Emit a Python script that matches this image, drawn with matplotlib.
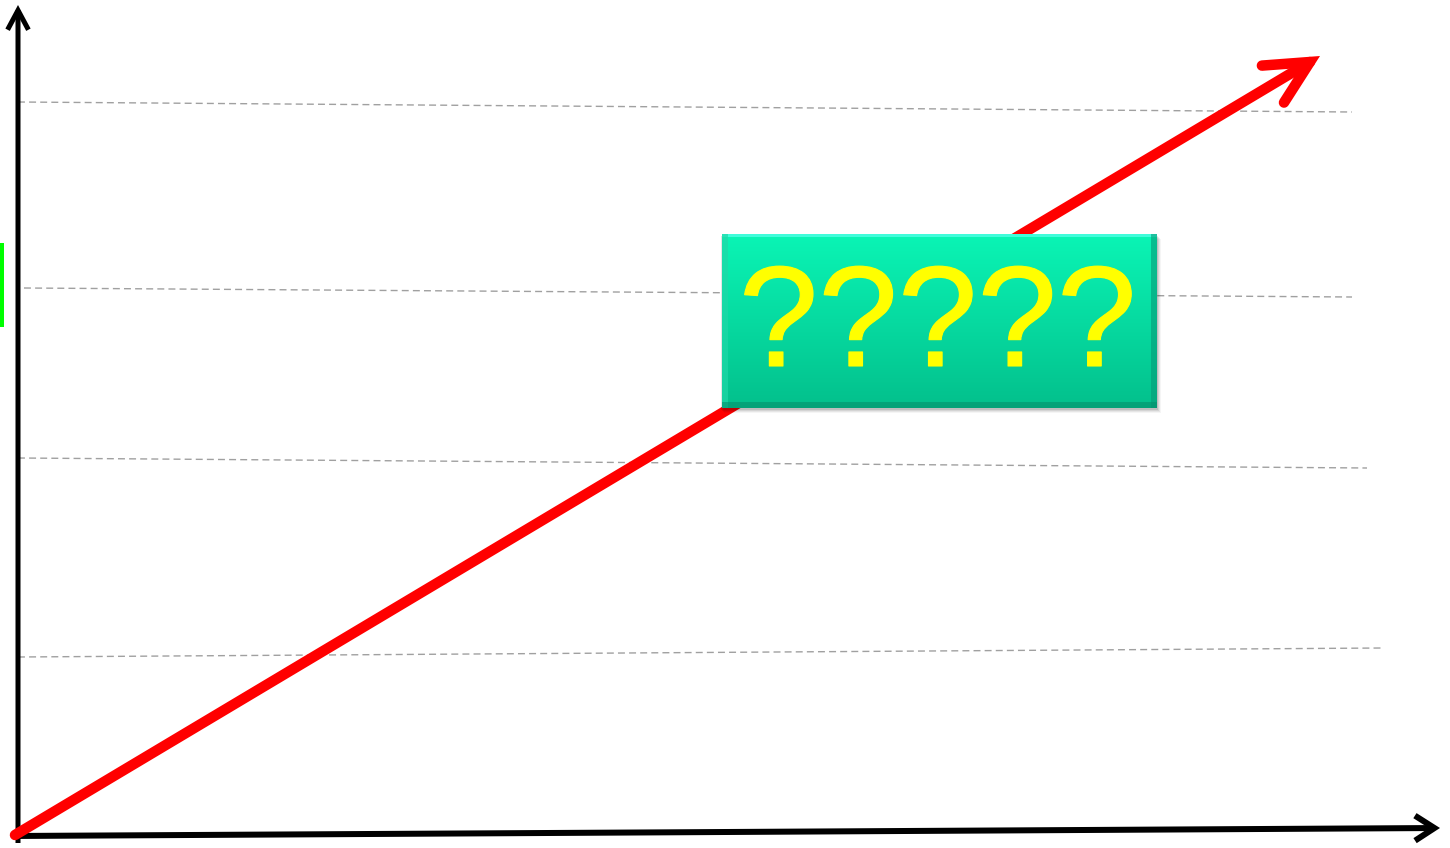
import matplotlib
matplotlib.use("Agg")
import matplotlib.pyplot as plt
import matplotlib.patheffects as pe
import numpy as np
from matplotlib.patches import FancyArrowPatch, Rectangle

# 坐标都用图片像素（原点左上）
W, H = 1450, 848

# 坐标轴（起点, 终点）
y_axis = [(18, 843), (18, 5)]
x_axis = [(12, 836), (1440, 828)]

# 灰色虚线：左端 x, 左端 y, 右端 x, 右端 y
grid_x0 = [18, 24, 18, 18]
grid_y0 = [102, 288, 458, 657]
grid_x1 = [1352, 1352, 1367, 1383]
grid_y1 = [112, 297, 468, 648]

# 红色趋势箭头
trend = [(15, 835), (1320, 56)]

# 左侧绿色小条
green_bar = (0, 243, 4, 84)

# 标签框
box = (722, 234, 435, 174)
box_text = "?????"

px = 0.72  # 像素 -> 磅

fig = plt.figure(figsize=(W / 100, H / 100), dpi=100)
ax = fig.add_axes([0, 0, 1, 1])
ax.set_xlim(0, W)
ax.set_ylim(H, 0)
ax.axis("off")

# 虚线
for x0, y0, x1, y1 in zip(grid_x0, grid_y0, grid_x1, grid_y1):
    ax.plot([x0, x1], [y0, y1], color="#a0a0a0", lw=1.0, ls=(0, (5, 3)), zorder=1)

# 坐标轴箭头
ax.add_patch(FancyArrowPatch(y_axis[0], y_axis[1], arrowstyle="->,head_length=14,head_width=7.5",
                             mutation_scale=1, lw=5 * px, color="black", capstyle="butt",
                             joinstyle="miter", shrinkA=0, shrinkB=0, zorder=3))
ax.add_patch(FancyArrowPatch(x_axis[0], x_axis[1], arrowstyle="->,head_length=14,head_width=9",
                             mutation_scale=1, lw=6 * px, color="black", capstyle="butt",
                             joinstyle="miter", shrinkA=0, shrinkB=0, zorder=3))

# 红色箭头
ax.add_patch(FancyArrowPatch(trend[0], trend[1], arrowstyle="->,head_length=31,head_width=15.5",
                             mutation_scale=1, lw=10.5 * px, color="#ff0000", capstyle="round",
                             joinstyle="miter", shrinkA=0, shrinkB=0, zorder=4))

# 绿色条
gx, gy, gw, gh = green_bar
ax.add_patch(Rectangle((gx, gy), gw, gh, color="#00ff00", lw=0, zorder=2))

# 标签框：阴影 + 渐变 + 斜角边
bx, by, bw, bh = box
for i, a in enumerate([0.10, 0.08, 0.06, 0.04]):
    ax.add_patch(Rectangle((bx - 1 + i, by + 2 + i), bw + 2, bh, color="black", alpha=a, lw=0, zorder=5))
grad = np.linspace(0, 1, 256).reshape(-1, 1)
top = np.array([0x0a, 0xf5, 0xb5]) / 255
bot = np.array([0x03, 0xc0, 0x8c]) / 255
img = top + (bot - top) * grad[:, :, None]
ax.imshow(img, extent=(bx, bx + bw, by + bh, by), aspect="auto", zorder=6, interpolation="bilinear")
e = 6
ax.add_patch(Rectangle((bx, by), bw, 3, color="#50ffe4", lw=0, zorder=7, alpha=0.8))
ax.add_patch(Rectangle((bx, by), e, bh, color="#20d8a8", lw=0, zorder=7, alpha=0.7))
ax.add_patch(Rectangle((bx + bw - e, by), e, bh, color="#089a78", lw=0, zorder=7, alpha=0.6))
ax.add_patch(Rectangle((bx, by + bh - e), bw, e, color="#068f6c", lw=0, zorder=7, alpha=0.6))
ax.set_xlim(0, W)
ax.set_ylim(H, 0)

ax.text(bx + bw / 2 - 2, by + bh / 2 + 8, box_text, color="#ffff00", fontsize=103,
        family=["Liberation Sans", "DejaVu Sans"], ha="center", va="center", zorder=8,
        path_effects=[pe.withStroke(linewidth=0.8, foreground="#ffff00")])

fig.savefig("out.png", dpi=100)
